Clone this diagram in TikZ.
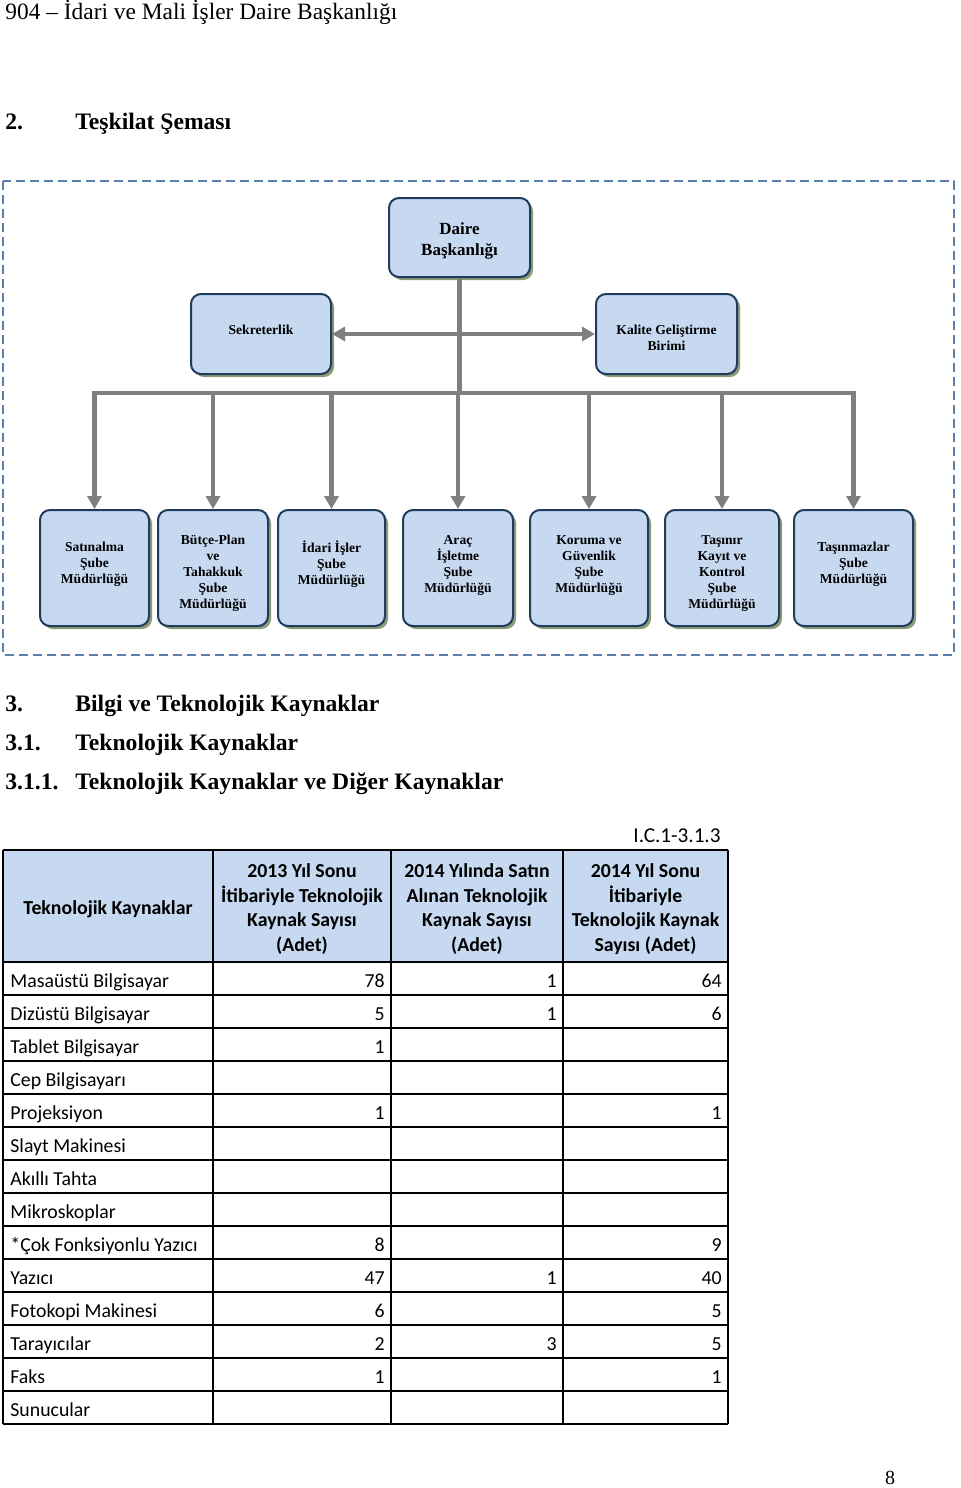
\documentclass[tikz,border=0pt]{standalone}
\usepackage{fontspec}
\setmainfont{Liberation Serif}
\newfontfamily\calibri{Carlito}
\usetikzlibrary{arrows.meta}
\usetikzlibrary{shadows}
\definecolor{boxfill}{HTML}{C6D9F1}
\definecolor{boxline}{HTML}{1F3B5E}
\definecolor{boxshade}{HTML}{8C9C74}
\definecolor{connline}{HTML}{7F7F7F}
\definecolor{frameline}{HTML}{5B7FA8}
\definecolor{headfill}{HTML}{C6D9F1}
\tikzstyle{unit}=[draw=boxline, line width=1pt, fill=boxfill, rounded corners=5pt, align=center,
  inner sep=1pt, font=\bfseries\fontsize{6.8}{8}\selectfont,
  drop shadow={shadow xshift=1.5pt, shadow yshift=-1.5pt, fill=boxshade, opacity=1}]
\tikzstyle{topunit}=[unit, font=\bfseries\fontsize{8.5}{10.5}\selectfont]
\tikzstyle{branch}=[unit, minimum height=58pt]
\tikzstyle{conn}=[draw=connline, line width=2.3pt]
\tikzstyle{drop}=[conn, -{Triangle[width=7pt,length=6.5pt]}]
\tikzstyle{heading}=[anchor=base west, inner sep=0pt, font=\bfseries\fontsize{11.8}{14}\selectfont]
\tikzstyle{cell}=[inner sep=0pt, font=\calibri\fontsize{9.9}{12.2}\selectfont]
\tikzstyle{headcell}=[cell, align=center, font=\calibri\bfseries\fontsize{9.9}{12.2}\selectfont]

\begin{document}
\begin{tikzpicture}[x=0.5pt, y=-0.5pt]
  \useasboundingbox[fill=white] (0,0) rectangle (960,1488);

  \node[anchor=base west, inner sep=0pt, font=\fontsize{11.7}{14}\selectfont] (pagehead) at (5,19)
    {904 -- İdari ve Mali İşler Daire Başkanlığı};
  \node[heading] (num2) at (5,129) {2.};
  \node[heading] (title2) at (75,129) {Teşkilat Şeması};

  \draw[frameline, line width=1pt, dash pattern=on 4.5pt off 2.5pt] (3,181) rectangle (954,655);

  \node[topunit, minimum width=70.5pt, minimum height=39.5pt, text height=18.3pt, text depth=0pt] (daire) at (459.5,237.5) {Daire\\Başkanlığı};
  \node[unit, minimum width=70pt, minimum height=40pt, text depth=4pt] (sekreter) at (261,334) {Sekreterlik};
  \node[unit, minimum width=70.5pt, minimum height=40pt, text height=16.7pt, text depth=0pt] (kalite) at (666.5,334) {Kalite Geliştirme\\Birimi};

  \node[branch, minimum width=54.5pt, text depth=5.5pt] (satin) at (94.5,568) {Satınalma\\Şube\\Müdürlüğü};
  \node[branch, minimum width=55pt, text height=40.7pt, text depth=0pt] (butce) at (213,568) {Bütçe-Plan\\ve\\Tahakkuk\\Şube\\Müdürlüğü};
  \node[branch, minimum width=53.5pt, text depth=5.5pt] (idari) at (331.5,568) {İdari İşler\\Şube\\Müdürlüğü};
  \node[branch, minimum width=55pt, text depth=3.5pt] (arac) at (458,568) {Araç\\İşletme\\Şube\\Müdürlüğü};
  \node[branch, minimum width=59pt, text depth=3.5pt] (koruma) at (589,568) {Koruma ve\\Güvenlik\\Şube\\Müdürlüğü};
  \node[branch, minimum width=57pt, text height=40.7pt, text depth=0pt] (tasinir) at (722,568) {Taşınır\\Kayıt ve\\Kontrol\\Şube\\Müdürlüğü};
  \node[branch, minimum width=59.5pt, text depth=5.5pt] (tasinmaz) at (853.5,568) {Taşınmazlar\\Şube\\Müdürlüğü};

  \coordinate (bus) at (0,393);
  \draw[conn] (daire.south) -- (daire.south |- bus);
  \draw[conn, line cap=rect] (satin.north |- bus) -- (tasinmaz.north |- bus);
  \draw[conn, {Triangle[width=7pt,length=6.5pt]}-{Triangle[width=7pt,length=6.5pt]}] (sekreter.east) -- (kalite.west);
  \foreach \unit in {satin,butce,idari,arac,koruma,tasinir,tasinmaz}
    \draw[drop] (\unit.north |- bus) -- (\unit.north);

  \node[heading] (num3) at (5,711) {3.};
  \node[heading] (title3) at (75,711) {Bilgi ve Teknolojik Kaynaklar};
  \node[heading] (num31) at (5,750) {3.1.};
  \node[heading] (title31) at (75,750) {Teknolojik Kaynaklar};
  \node[heading] (num311) at (5,789) {3.1.1.};
  \node[heading] (title311) at (75,789) {Teknolojik Kaynaklar ve Diğer Kaynaklar};

  \node[cell, anchor=base east, font=\calibri\fontsize{10.6}{13}\selectfont] (tableno) at (721,842) {I.C.1-3.1.3};

  \fill[headfill] (3,850) rectangle (728,962);
  \foreach \x in {3,213,391,563,728}
    \draw[line width=1pt] (\x,850) -- (\x,1424);
  \draw[line width=1pt] (3,850) -- (728,850);
  \foreach \i in {0,...,14}
    \draw[line width=1pt] (3,962+33*\i) -- (728,962+33*\i);

  \node[headcell] (hkaynak) at (108,909) {Teknolojik Kaynaklar};
  \node[headcell] (h2013) at (302,909) {2013 Yıl Sonu\\İtibariyle Teknolojik\\Kaynak Sayısı\\(Adet)};
  \node[headcell] (hsatin) at (477,909) {2014 Yılında Satın\\Alınan Teknolojik\\Kaynak Sayısı\\(Adet)};
  \node[headcell] (h2014) at (645.5,909) {2014 Yıl Sonu\\İtibariyle\\Teknolojik Kaynak\\Sayısı (Adet)};

  \foreach \name/\a/\b/\c [count=\i] in {
      Masaüstü Bilgisayar/78/1/64,
      Dizüstü Bilgisayar/5/1/6,
      Tablet Bilgisayar/1//,
      Cep Bilgisayarı///,
      Projeksiyon/1//1,
      Slayt Makinesi///,
      Akıllı Tahta///,
      Mikroskoplar///,
      *Çok Fonksiyonlu Yazıcı/8//9,
      Yazıcı/47/1/40,
      Fotokopi Makinesi/6//5,
      Tarayıcılar/2/3/5,
      Faks/1//1,
      Sunucular///} {
    \node[cell, anchor=base west] (row\i) at (10,{954+33*\i}) {\name};
    \node[cell, anchor=base east] (row\i a) at (385,{954+33*\i}) {\a};
    \node[cell, anchor=base east] (row\i b) at (557,{954+33*\i}) {\b};
    \node[cell, anchor=base east] (row\i c) at (722,{954+33*\i}) {\c};
  }

  \node[anchor=base, inner sep=0pt, font=\fontsize{10}{12}\selectfont] (pageno) at (890,1484) {8};
\end{tikzpicture}
\end{document}
